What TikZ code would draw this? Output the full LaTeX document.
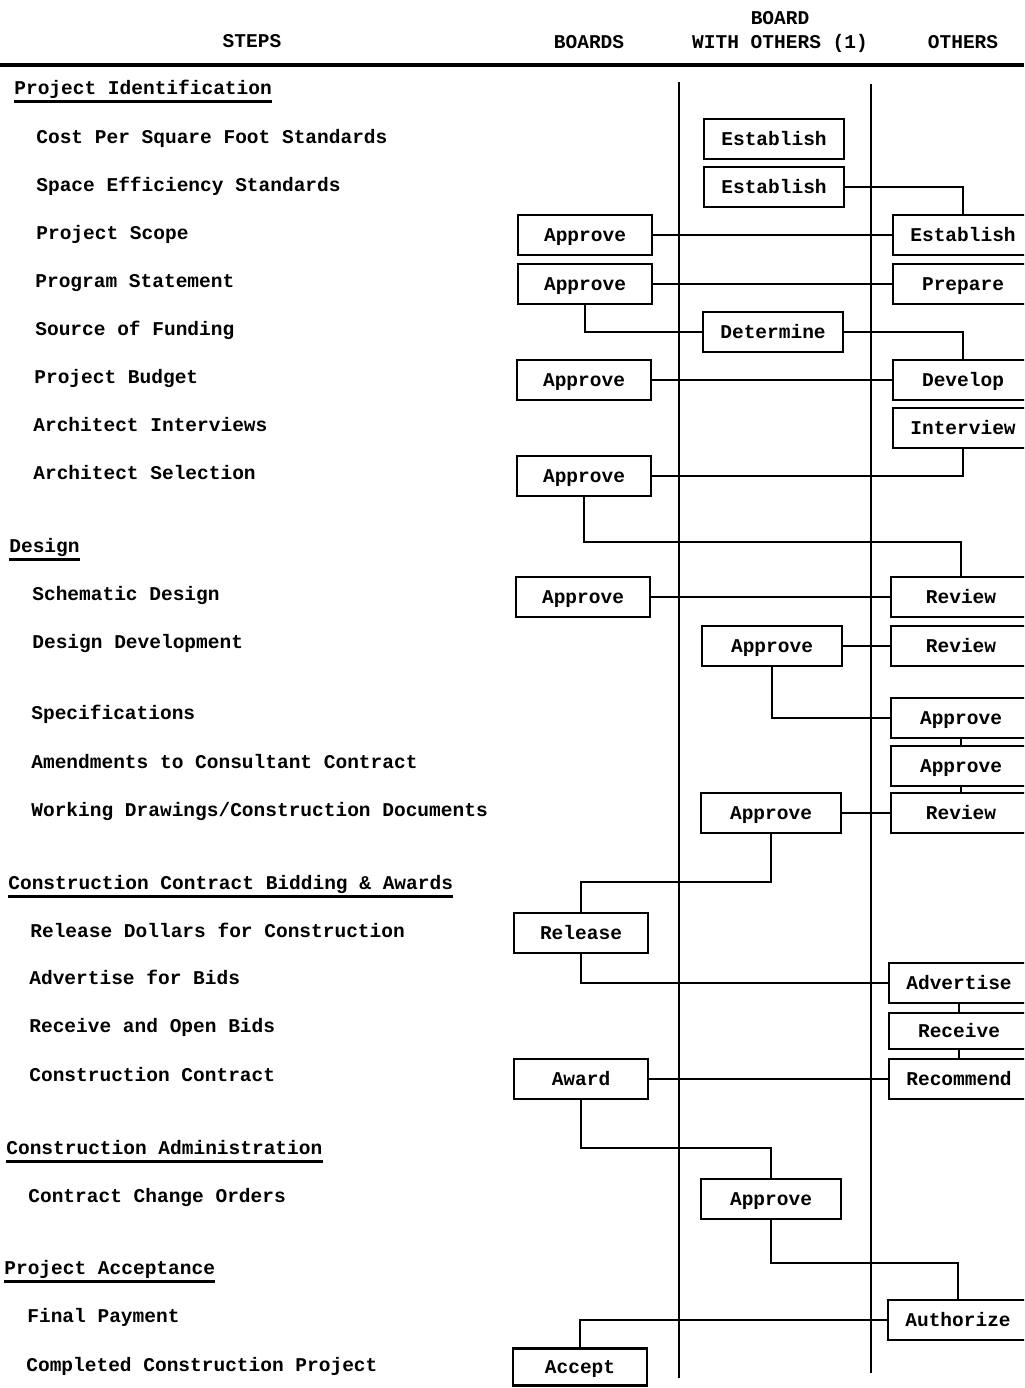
\documentclass[tikz,border=0pt]{standalone}
\usepackage{fontspec}
\newfontfamily\chartfont{Liberation Mono}
\usetikzlibrary{positioning, calc}

\begin{document}
\begin{tikzpicture}[x=0.02cm, y=-0.02cm,
  txt/.style={font=\chartfont\bfseries\fontsize{11.1}{13}\selectfont, text height=7pt, text depth=0pt, inner sep=0pt},
  task/.style={txt, anchor=west},
  head/.style={txt},
  box/.style={txt, draw, line width=1.4pt, minimum height=0.8cm},
  bbox/.style={box, minimum width=2.68cm},
  mbox/.style={box, minimum width=2.8cm},
  obox/.style={box, minimum width=2.8cm},
  link/.style={line width=1.2pt},
  uline/.style={line width=1.2pt}]
\useasboundingbox (0,0) rectangle (1024,1388);
\clip (0,0) rectangle (1024,1388);
% Column headings
\node[head] (hSteps) at (252,41) {STEPS};
\node[head] (hBoards) at (589,42) {BOARDS};
\node[head] (hBoard) at (780,18) {BOARD};
\node[head] (hWith) at (780,42) {WITH OTHERS (1)};
\node[head] (hOthers) at (963,42) {OTHERS};
\draw[line width=2pt] (0,65) -- (1024,65);
% Column rules
\draw[line width=1.2pt] (679,82) -- (679,1378);
\draw[line width=1.2pt] (871,84) -- (871,1373);
% Steps
\node[task] (pIdent) at (14,88) {Project Identification};
\node[task] (tCost) at (36,137) {Cost Per Square Foot Standards};
\node[task] (tSpace) at (36,185) {Space Efficiency Standards};
\node[task] (tScope) at (36,233) {Project Scope};
\node[task] (tProgram) at (35,281) {Program Statement};
\node[task] (tFund) at (35,329) {Source of Funding};
\node[task] (tBudget) at (34,377) {Project Budget};
\node[task] (tInterview) at (33,425) {Architect Interviews};
\node[task] (tSelect) at (33,473) {Architect Selection};
\node[task] (pDesign) at (9,546) {Design};
\node[task] (tSchem) at (32,594) {Schematic Design};
\node[task] (tDevel) at (32,642) {Design Development};
\node[task] (tSpec) at (31,713) {Specifications};
\node[task] (tAmend) at (31,762) {Amendments to Consultant Contract};
\node[task] (tWork) at (31,810) {Working Drawings/Construction Documents};
\node[task] (pBid) at (8,883) {Construction Contract Bidding \& Awards};
\node[task] (tRelease) at (30,931) {Release Dollars for Construction};
\node[task] (tAdvert) at (29,978) {Advertise for Bids};
\node[task] (tReceive) at (29,1026) {Receive and Open Bids};
\node[task] (tContract) at (29,1075) {Construction Contract};
\node[task] (pAdmin) at (6,1148) {Construction Administration};
\node[task] (tChange) at (28,1196) {Contract Change Orders};
\node[task] (pAccept) at (4,1268) {Project Acceptance};
\node[task] (tPay) at (27,1316) {Final Payment};
\node[task] (tDone) at (26,1365) {Completed Construction Project};
% Phase underlines
\foreach \p in {pIdent, pDesign, pBid, pAdmin, pAccept}
  \draw[uline] ([yshift=-4pt]\p.south west) -- ([yshift=-4pt]\p.south east);
% Boards
\node[bbox] (bScope) at (585,235) {Approve};
\node[bbox] (bProgram) at (585,284) {Approve};
\node[bbox] (bBudget) at (584,380) {Approve};
\node[bbox] (bSelect) at (584,476) {Approve};
\node[bbox] (bSchem) at (583,597) {Approve};
\node[bbox] (bRelease) at (581,933) {Release};
\node[bbox] (bAward) at (581,1079) {Award};
\node[bbox, minimum height=0.74cm] (bAccept) at (580,1367) {Accept};
% Board with others
\node[mbox] (mCost) at (774,139) {Establish};
\node[mbox] (mSpace) at (774,187) {Establish};
\node[mbox] (mFund) at (773,332) {Determine};
\node[mbox] (mDevel) at (772,646) {Approve};
\node[mbox] (mWork) at (771,813) {Approve};
\node[mbox] (mChange) at (771,1199) {Approve};
% Others
\node[obox] (oScope) at (963,235) {Establish};
\node[obox] (oProgram) at (963,284) {Prepare};
\node[obox] (oBudget) at (963,380) {Develop};
\node[obox] (oInterview) at (963,428) {Interview};
\node[obox] (oSchem) at (961,597) {Review};
\node[obox] (oDevel) at (961,646) {Review};
\node[obox] (oSpec) at (961,718) {Approve};
\node[obox] (oAmend) at (961,766) {Approve};
\node[obox] (oWork) at (961,813) {Review};
\node[obox] (oAdvert) at (959,983) {Advertise};
\node[obox, minimum height=0.72cm] (oReceive) at (959,1031) {Receive};
\node[obox] (oRecommend) at (959,1079) {Recommend};
\node[obox] (oAuth) at (958,1320) {Authorize};
% Bend levels
\coordinate (kDesign) at (700,542);
\coordinate (kBid) at (700,882);
\coordinate (kAdmin) at (700,1148);
\coordinate (kAccept) at (800,1263);
% Connectors
\draw[link] (mSpace.east) -| (oScope.north);
\draw[link] (bScope.east) -- (oScope.west);
\draw[link] (bProgram.east) -- (oProgram.west);
\draw[link] (bProgram.south) |- (mFund.west);
\draw[link] (mFund.east) -| (oBudget.north);
\draw[link] (bBudget.east) -- (oBudget.west);
\draw[link] (oInterview.south) |- (bSelect.east);
\draw[link] (bSelect.south) |- (kDesign) -| (oSchem.north);
\draw[link] (bSchem.east) -- (oSchem.west);
\draw[link] (mDevel.east) -- (oDevel.west);
\draw[link] (mDevel.south) |- (oSpec.west);
\draw[link] (oSpec.south) -- (oAmend.north);
\draw[link] (oAmend.south) -- (oWork.north);
\draw[link] (mWork.east) -- (oWork.west);
\draw[link] (mWork.south) |- (kBid) -| (bRelease.north);
\draw[link] (bRelease.south) |- (oAdvert.west);
\draw[link] (oAdvert.south) -- (oReceive.north);
\draw[link] (oReceive.south) -- (oRecommend.north);
\draw[link] (bAward.east) -- (oRecommend.west);
\draw[link] (bAward.south) |- (kAdmin) -| (mChange.north);
\draw[link] (mChange.south) |- (kAccept) -| (oAuth.north);
\draw[link] (oAuth.west) -| (bAccept.north);
\end{tikzpicture}
\end{document}
